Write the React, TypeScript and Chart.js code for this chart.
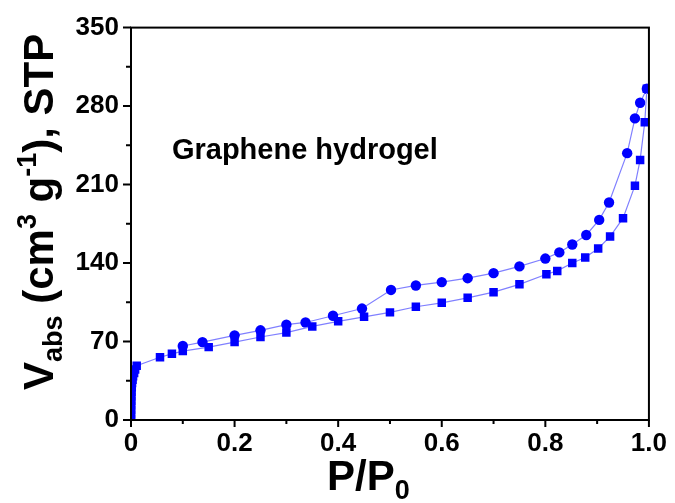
import React, { useEffect, useRef } from "react";
import { Chart, registerables } from "chart.js";

Chart.register(...registerables);

// Adsorption branch (squares)
const adsP = [0.0001, 0.0002, 0.0003, 0.0004, 0.0006, 0.0008, 0.001, 0.0015, 0.002, 0.003, 0.004, 0.006, 0.008, 0.011, 0.056, 0.079, 0.1, 0.15, 0.2, 0.25, 0.3, 0.35, 0.4, 0.45, 0.5, 0.55, 0.6, 0.65, 0.7, 0.75, 0.802, 0.823, 0.852, 0.877, 0.902, 0.925, 0.95, 0.973, 0.983, 0.992, 0.996];
const adsV = [1, 5, 9, 13, 17, 21, 25, 29, 33, 36, 39, 42, 45, 48.4, 56, 59, 61.5, 65, 69.5, 74, 78, 83.5, 88, 92, 96, 101, 104.5, 109, 114, 121, 130, 133, 140, 145, 153, 163.6, 180, 209, 232, 265.6, 295.5];

// Desorption branch (circles)
const desP = [0.996, 0.983, 0.973, 0.958, 0.923, 0.904, 0.879, 0.852, 0.827, 0.8, 0.75, 0.7, 0.65, 0.6, 0.55, 0.502, 0.446, 0.39, 0.337, 0.3, 0.25, 0.2, 0.138, 0.1];
const desV = [295.5, 283, 269, 238, 194, 178.5, 165, 156.5, 149.5, 144, 137, 131, 126.5, 123, 120, 116, 99.4, 93, 87, 85, 80, 75.5, 69.5, 66];

const xTickValues = [0, 0.2, 0.4, 0.6, 0.8, 1.0];
const xTickLabels = ["0", "0.2", "0.4", "0.6", "0.8", "1.0"];
const yTickValues = [0, 70, 140, 210, 280, 350];
const yTickLabels = ["0", "70", "140", "210", "280", "350"];

const sampleLabel = "Graphene hydrogel";
const sampleLabelPos = { x: 0.079, y: 233 };

const FONT = "'Liberation Sans', Arial, sans-serif";

function labelFor(values: number[], labels: string[], v: number) {
  const i = values.findIndex((t) => Math.abs(t - v) < 1e-6);
  return i >= 0 ? labels[i] : "";
}

type Seg = { text: string; size: number; dy: number };

function drawRich(ctx: CanvasRenderingContext2D, segs: Seg[], x: number, y: number) {
  let cx = x;
  for (const s of segs) {
    ctx.font = `bold ${s.size}px ${FONT}`;
    ctx.fillText(s.text, cx, y + s.dy);
    cx += ctx.measureText(s.text).width;
  }
}

const framePlugin = {
  id: "frameAndTitles",
  afterDraw(chart: any) {
    const { ctx, chartArea } = chart;
    const { left, right, top, bottom } = chartArea;
    const xs = chart.scales.x;
    const ys = chart.scales.y;
    ctx.save();
    ctx.strokeStyle = "#000";
    ctx.lineWidth = 2;
    ctx.strokeRect(left, top, right - left, bottom - top);
    // tick marks
    ctx.lineWidth = 2;
    ctx.beginPath();
    xs.ticks.forEach((t: any) => {
      const px = xs.getPixelForValue(t.value);
      const major = labelFor(xTickValues, xTickLabels, t.value) !== "";
      ctx.moveTo(px, bottom);
      ctx.lineTo(px, bottom + (major ? 7 : 4));
    });
    ys.ticks.forEach((t: any) => {
      const py = ys.getPixelForValue(t.value);
      const major = labelFor(yTickValues, yTickLabels, t.value) !== "";
      ctx.moveTo(left, py);
      ctx.lineTo(left - (major ? 8 : 5), py);
    });
    ctx.stroke();

    ctx.fillStyle = "#000";
    ctx.textBaseline = "alphabetic";
    ctx.textAlign = "left";
    // sample label
    ctx.font = `bold 29px ${FONT}`;
    ctx.fillText(sampleLabel, xs.getPixelForValue(sampleLabelPos.x), ys.getPixelForValue(sampleLabelPos.y));

    // x title
    drawRich(
      ctx,
      [
        { text: "P/P", size: 42, dy: 0 },
        { text: "0", size: 27, dy: 9 },
      ],
      327,
      490
    );

    // y title
    ctx.save();
    ctx.translate(53, 390);
    ctx.rotate(-Math.PI / 2);
    drawRich(
      ctx,
      [
        { text: "V", size: 42, dy: 0 },
        { text: "abs", size: 27, dy: 9 },
        { text: " (cm", size: 42, dy: 0 },
        { text: "3", size: 27, dy: -17 },
        { text: " g", size: 42, dy: 0 },
        { text: "-1", size: 27, dy: -17 },
        { text: "), STP", size: 42, dy: 0 },
      ],
      0,
      0
    );
    ctx.restore();
    ctx.restore();
  },
};

export default function App() {
  const ref = useRef<HTMLCanvasElement | null>(null);

  useEffect(() => {
    if (!ref.current) return;
    const ads = adsP.map((p, i) => ({ x: p, y: adsV[i] }));
    const des = desP.map((p, i) => ({ x: p, y: desV[i] }));
    const tickFont = { family: FONT, size: 26, weight: "bold" as const };
    const chart = new Chart(ref.current, {
      type: "scatter",
      data: {
        datasets: [
          {
            label: "Adsorption",
            data: ads,
            showLine: true,
            clip: 0,
            borderColor: "#8080ff",
            borderWidth: 1.2,
            pointStyle: "rect",
            pointRadius: 6,
            pointBackgroundColor: "#0000ff",
            pointBorderColor: "#0000ff",
            pointBorderWidth: 0,
          },
          {
            label: "Desorption",
            data: des,
            showLine: true,
            clip: 0,
            borderColor: "#8080ff",
            borderWidth: 1.2,
            pointStyle: "circle",
            pointRadius: 5.2,
            pointBackgroundColor: "#0000ff",
            pointBorderColor: "#0000ff",
            pointBorderWidth: 0,
          },
        ],
      },
      options: {
        animation: false,
        responsive: false,
        devicePixelRatio: 1,
        layout: { padding: { left: 0, right: 24, top: 22, bottom: 0 } },
        plugins: { legend: { display: false }, tooltip: { enabled: false } },
        scales: {
          x: {
            type: "linear",
            min: 0,
            max: 1,
            afterFit: (s: any) => {
              s.height = 83;
            },
            grid: { display: false, drawTicks: false },
            border: { display: false },
            ticks: {
              stepSize: 0.1,
              autoSkip: false,
              maxRotation: 0,
              padding: 8,
              color: "#000",
              font: tickFont,
              callback: (v: any) => labelFor(xTickValues, xTickLabels, Number(v)),
            },
          },
          y: {
            type: "linear",
            min: 0,
            max: 350,
            afterFit: (s: any) => {
              s.width = 131;
            },
            grid: { display: false, drawTicks: false },
            border: { display: false },
            ticks: {
              stepSize: 35,
              autoSkip: false,
              padding: 12,
              color: "#000",
              font: tickFont,
              callback: (v: any) => labelFor(yTickValues, yTickLabels, Number(v)),
            },
          },
        },
      },
      plugins: [framePlugin],
    });
    return () => chart.destroy();
  }, []);

  return (
    <div style={{ position: "absolute", left: 0, top: 0, width: 675, height: 503, background: "#fff" }}>
      <canvas ref={ref} width={675} height={503} />
    </div>
  );
}
